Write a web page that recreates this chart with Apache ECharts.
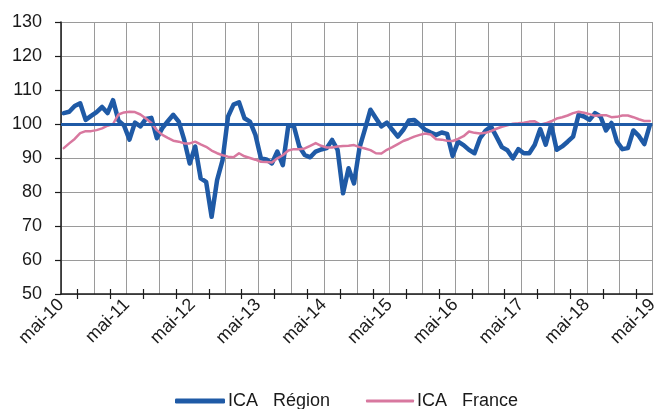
<!DOCTYPE html>
<html>
<head>
<meta charset="utf-8">
<script src="https://cdn.jsdelivr.net/npm/echarts@6/dist/echarts.min.js"></script>
<style>
html,body{margin:0;padding:0;background:#fff;}
#chart{width:661px;height:409px;}
</style>
</head>
<body>
<div id="chart"></div>
<script>
// Months: data months mai-10 .. avr-19 (108), axis boundaries mai-10 .. mai-19 (109)
const monthNames = ['janv','févr','mars','avr','mai','juin','juil','août','sept','oct','nov','déc'];
const startMonth = 4, startYear = 10;
function monthLabel(k) {
  const m = (startMonth + k) % 12;
  const y = startYear + Math.floor((startMonth + k) / 12);
  return monthNames[m] + '-' + y;
}
const dataMonths = [];
for (let k = 0; k < 108; k++) dataMonths.push(monthLabel(k));
const boundaryLabels = [];
for (let k = 0; k <= 108; k++) boundaryLabels.push(monthLabel(k));

const yTicks = [50, 60, 70, 80, 90, 100, 110, 120, 130];
const referenceLevel = 100;

const icaRegion = [
  103.2, 103.6, 105.3, 106.1, 101.2, 102.4, 103.5, 105.0, 103.2, 107.0,
  101.0, 99.6, 95.4, 100.4, 99.3, 101.5, 101.8, 95.8, 98.8, 100.8,
  102.7, 100.7, 95.3, 88.4, 93.4, 84.0, 83.0, 72.7, 83.5, 89.4,
  102.2, 105.7, 106.4, 101.7, 100.7, 96.8, 89.9, 89.6, 88.4, 91.9,
  87.9, 99.5, 99.5, 93.4, 90.9, 90.2, 91.9, 92.5, 92.9, 95.3,
  92.4, 79.6, 87.0, 82.5, 93.0, 98.5, 104.2, 101.7, 99.3, 100.4,
  98.3, 96.3, 98.3, 101.0, 101.2, 99.8, 98.3, 97.5, 96.8, 97.5,
  97.1, 90.6, 94.8, 93.8, 92.4, 91.4, 95.8, 98.0, 99.3, 96.3,
  93.2, 92.3, 89.9, 92.6, 91.4, 91.4, 93.9, 98.5, 93.9, 99.8,
  92.4, 93.4, 94.8, 96.3, 102.7, 102.2, 101.2, 103.2, 102.2, 98.1,
  100.3, 94.8, 92.6, 92.9, 98.1, 96.5, 94.1, 99.6
];

const icaFrance = [
  92.9, 94.3, 95.6, 97.3, 97.9, 97.9, 98.2, 98.7, 99.5, 100.0,
  102.8, 103.4, 103.6, 103.5, 102.8, 101.6, 100.3, 98.2, 96.8, 95.9,
  95.1, 94.8, 94.3, 94.3, 94.8, 94.0, 93.3, 92.2, 91.4, 90.8,
  90.4, 90.2, 91.4, 90.5, 90.0, 89.5, 88.9, 88.8, 88.7, 89.9,
  90.8, 92.2, 92.6, 92.6, 92.8, 93.6, 94.4, 93.6, 93.1, 93.1,
  93.4, 93.5, 93.6, 93.8, 93.2, 92.8, 92.3, 91.4, 91.3, 92.4,
  93.2, 94.1, 95.0, 95.6, 96.3, 96.8, 97.2, 96.9, 95.5, 95.4,
  95.1, 95.0, 95.6, 96.4, 97.8, 97.4, 97.2, 97.4, 97.9, 98.6,
  99.2, 99.6, 100.1, 100.2, 100.4, 100.7, 100.8, 99.8, 100.2, 100.8,
  101.6, 102.0, 102.5, 103.2, 103.6, 103.3, 102.9, 102.4, 102.6, 102.6,
  102.0, 102.1, 102.5, 102.5, 102.0, 101.4, 100.9, 100.9
];

const seriesNames = ['ICA   Région', 'ICA   France'];
const blue = '#1F5AA6';
const pink = '#D8789F';
const font = 'Liberation Sans, Arial, sans-serif';
const tickEvery = (i) => i % 6 === 3;

const chart = echarts.init(document.getElementById('chart'), null, {renderer: 'canvas'});
chart.setOption({
  animation: false,
  backgroundColor: '#fff',
  grid: {left: 61, right: 4, top: 22, bottom: 115, containLabel: false},
  legend: [
    {
      data: [seriesNames[0]], left: 170, top: 387, icon: 'roundRect',
      itemWidth: 50, itemHeight: 5, itemGap: 0,
      textStyle: {fontFamily: font, fontSize: 18, color: '#1a1a1a', padding: [0,0,0,-2]}
    },
    {
      data: [seriesNames[1]], left: 361, top: 387, icon: 'roundRect',
      itemWidth: 48, itemHeight: 3, itemGap: 0,
      textStyle: {fontFamily: font, fontSize: 18, color: '#1a1a1a', padding: [0,0,0,-2]}
    }
  ],
  xAxis: [
    {
      type: 'category', data: boundaryLabels, boundaryGap: false,
      axisLine: {show: true, lineStyle: {color: '#1a1a1a', width: 1.5}},
      axisTick: {show: true, length: 5, interval: tickEvery, lineStyle: {color: '#1a1a1a', width: 1.2}},
      axisLabel: {
        interval: 11, rotate: 45, margin: 8,
        fontFamily: font, fontSize: 18, color: '#1a1a1a'
      },
      splitLine: {show: true, interval: 5, lineStyle: {color: '#9a9a9a', width: 1}}
    },
    {
      type: 'category', data: dataMonths, boundaryGap: true, position: 'bottom',
      axisLine: {show: false}, axisTick: {show: false}, axisLabel: {show: false},
      splitLine: {show: false}
    },
    {
      type: 'category', data: boundaryLabels, boundaryGap: false, position: 'bottom',
      axisLine: {show: false},
      axisTick: {show: true, inside: true, length: 5, interval: tickEvery, lineStyle: {color: '#1a1a1a', width: 1.2}},
      axisLabel: {show: false},
      splitLine: {show: false}
    }
  ],
  yAxis: {
    type: 'value', min: yTicks[0], max: yTicks[yTicks.length - 1], interval: 10,
    axisLine: {show: true, lineStyle: {color: '#1a1a1a', width: 1.5}},
    axisTick: {show: true, length: 6, lineStyle: {color: '#1a1a1a', width: 1.2}},
    axisLabel: {margin: 19, fontFamily: font, fontSize: 18, color: '#1a1a1a'},
    splitLine: {show: true, lineStyle: {color: '#9a9a9a', width: 1}}
  },
  series: [
    {
      name: 'ref', type: 'line', data: [], xAxisIndex: 1, z: 1, silent: true,
      markLine: {
        silent: true, symbol: 'none', label: {show: false},
        lineStyle: {color: blue, width: 3, type: 'solid'},
        data: [{yAxis: referenceLevel}]
      }
    },
    {
      name: seriesNames[0], type: 'line', data: icaRegion, xAxisIndex: 1, z: 3,
      showSymbol: false, symbol: 'none', color: blue,
      lineStyle: {color: blue, width: 4.5, cap: 'round', join: 'round'}
    },
    {
      name: seriesNames[1], type: 'line', data: icaFrance, xAxisIndex: 1, z: 4,
      showSymbol: false, symbol: 'none', color: pink,
      lineStyle: {color: pink, width: 2.5, cap: 'round', join: 'round'}
    }
  ]
});
</script>
</body>
</html>
